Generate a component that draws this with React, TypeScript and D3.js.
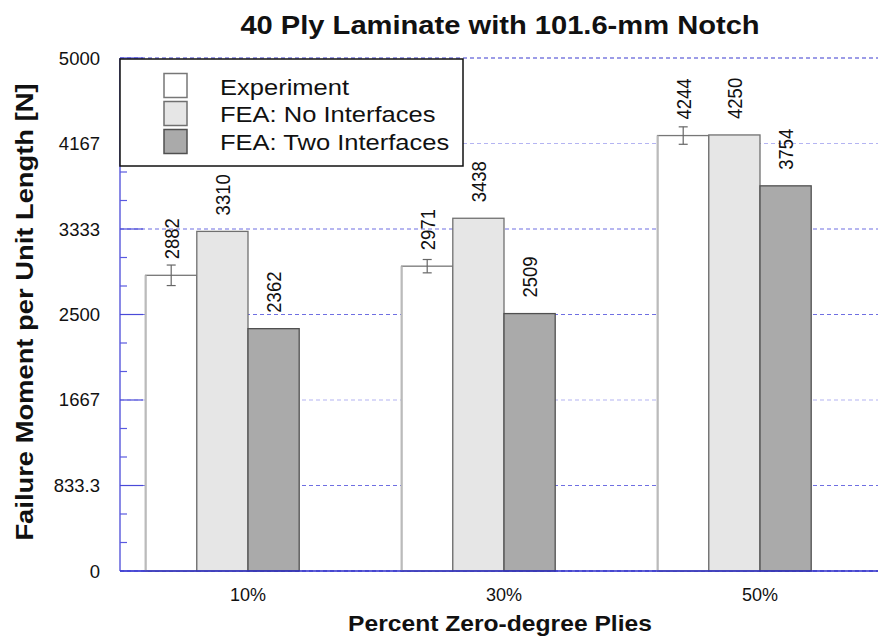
import React from "react";
import * as d3 from "d3";

const categories = ["10%", "30%", "50%"];
const seriesNames = ["Experiment", "FEA: No Interfaces", "FEA: Two Interfaces"];
const experiment = [2882, 2971, 4244];
const experimentErr = [100, 65, 85];
const feaNone = [3310, 3438, 4250];
const feaTwo = [2362, 2509, 3754];
const yTickValues = [0, 833.3, 1666.7, 2500, 3333.3, 4166.7, 5000];
const yTickLabels = ["0", "833.3", "1667", "2500", "3333", "4167", "5000"];

const W = 878, H = 641;
const ML = 120, MR = 888, MT = 58, MB = 571;
const FONT = "'Liberation Sans', Arial, Helvetica, sans-serif";

export default function App() {
  const x0 = d3.scaleBand<string>().domain(categories).range([ML, MR]).padding(0);
  const slots = [...seriesNames, "__spare"];
  const x1 = d3.scaleBand<string>().domain(slots).range([0, x0.bandwidth()]).paddingInner(0).paddingOuter(0.5);
  const y = d3.scaleLinear().domain([0, 5000]).range([MB, MT]);
  const bw = x1.bandwidth();

  const fills = ["#ffffff", "#e6e6e6", "#aaaaaa"];
  const strokes = ["#777777", "#707070", "#505050"];
  const seriesData = [experiment, feaNone, feaTwo];

  const minor: number[] = [];
  for (let i = 0; i < yTickValues.length - 1; i++) {
    const a = yTickValues[i], b = yTickValues[i + 1];
    minor.push(a + (b - a) / 3, a + (2 * (b - a)) / 3);
  }

  return (
    <svg width={W} height={H} style={{ position: "absolute", left: 0, top: 0 }} fontFamily={FONT}>
      <rect x={0} y={0} width={W} height={H} fill="#fff" />
      {/* gridlines */}
      {yTickValues.map((v, i) => (
        <line key={"g" + i} x1={ML} x2={MR} y1={y(v)} y2={y(v)}
          stroke={i === 0 || i === 6 ? "#3a3ad0" : i % 3 === 2 ? "#b4b4f2" : "#6f6fe2"}
          strokeWidth={1.2} strokeDasharray="4,3" />
      ))}
      {/* bars */}
      {categories.map((c, ci) => (
        <g key={c} transform={`translate(${x0(c)},0)`}>
          {seriesNames.map((s, si) => {
            const v = seriesData[si][ci];
            const bx = x1(s)!;
            return (
              <g key={s}>
                <rect x={bx} y={y(v)} width={bw} height={y(0) - y(v)} fill={fills[si]} stroke={strokes[si]} strokeWidth={1.3} />
                {si === 0 && <line x1={bx} x2={bx} y1={y(v)} y2={y(0)} stroke="#bbbbbb" strokeWidth={2} />}
              </g>
            );
          })}
          {/* error bar */}
          {(() => {
            const cx = x1(seriesNames[0])! + bw / 2;
            const v = experiment[ci], e = experimentErr[ci];
            return (
              <g stroke="#666" strokeWidth={1.2}>
                <line x1={cx} x2={cx} y1={y(v + e)} y2={y(v - e)} />
                <line x1={cx - 4.5} x2={cx + 4.5} y1={y(v + e)} y2={y(v + e)} />
                <line x1={cx - 4.5} x2={cx + 4.5} y1={y(v - e)} y2={y(v - e)} />
              </g>
            );
          })()}
          {/* value labels */}
          {seriesNames.map((s, si) => {
            const v = seriesData[si][ci];
            const cx = x1(s)! + bw / 2;
            return (
              <text key={"t" + s} transform={`translate(${cx},${y(v) - 16}) rotate(-90) scale(1,1.12)`}
                fontSize={18.5} dominantBaseline="central" textAnchor="start" fill="#111">
                {v}
              </text>
            );
          })}
        </g>
      ))}
      {/* axes */}
      <line x1={ML} x2={ML} y1={MT} y2={MB} stroke="#4a4ad8" strokeWidth={1.3} />
      <line x1={ML} x2={MR} y1={MB} y2={MB} stroke="#2a2ac8" strokeWidth={1.6} />
      {yTickValues.map((v, i) => (
        <line key={"mt" + i} x1={ML} x2={ML + 23} y1={y(v)} y2={y(v)} stroke="#4a4ad8" strokeWidth={1.2} />
      ))}
      {minor.map((v, i) => (
        <line key={"mn" + i} x1={ML} x2={ML + 7} y1={y(v)} y2={y(v)} stroke="#5a5ae0" strokeWidth={1.2} />
      ))}
      {yTickValues.map((v, i) => (
        <text key={"yl" + i} x={100} y={y(v)} textAnchor="end" dominantBaseline="central" fontSize={18.5} fill="#111">
          {yTickLabels[i]}
        </text>
      ))}
      {categories.map((c) => (
        <text key={"xl" + c} x={x0(c)! + x0.bandwidth() / 2} y={601} textAnchor="middle" fontSize={18} fill="#111">
          {c}
        </text>
      ))}
      {/* legend */}
      <rect x={120} y={59} width={343} height={107} fill="#fff" stroke="#111" strokeWidth={1.5} />
      {seriesNames.map((s, i) => (
        <g key={"lg" + s}>
          <rect x={164} y={73.5 + i * 28} width={23} height={24} fill={fills[i]} stroke={strokes[i]} strokeWidth={1.5} />
          <text transform={`translate(220,${94.5 + i * 27.5}) scale(1.16,1)`} fontSize={22} fill="#111">{s}</text>
        </g>
      ))}
      {/* titles */}
      <text transform={`translate(500,34) scale(1.165,1)`} textAnchor="middle" fontSize={25} fontWeight="bold" fill="#111">
        40 Ply Laminate with 101.6-mm Notch
      </text>
      <text transform={`translate(500,631) scale(1.12,1)`} textAnchor="middle" fontSize={22} fontWeight="bold" fill="#111">
        Percent Zero-degree Plies
      </text>
      <text transform={`translate(33,312) rotate(-90) scale(1.14,1)`} textAnchor="middle" fontSize={24} fontWeight="bold" fill="#111">
        Failure Moment per Unit Length [N]
      </text>
    </svg>
  );
}
